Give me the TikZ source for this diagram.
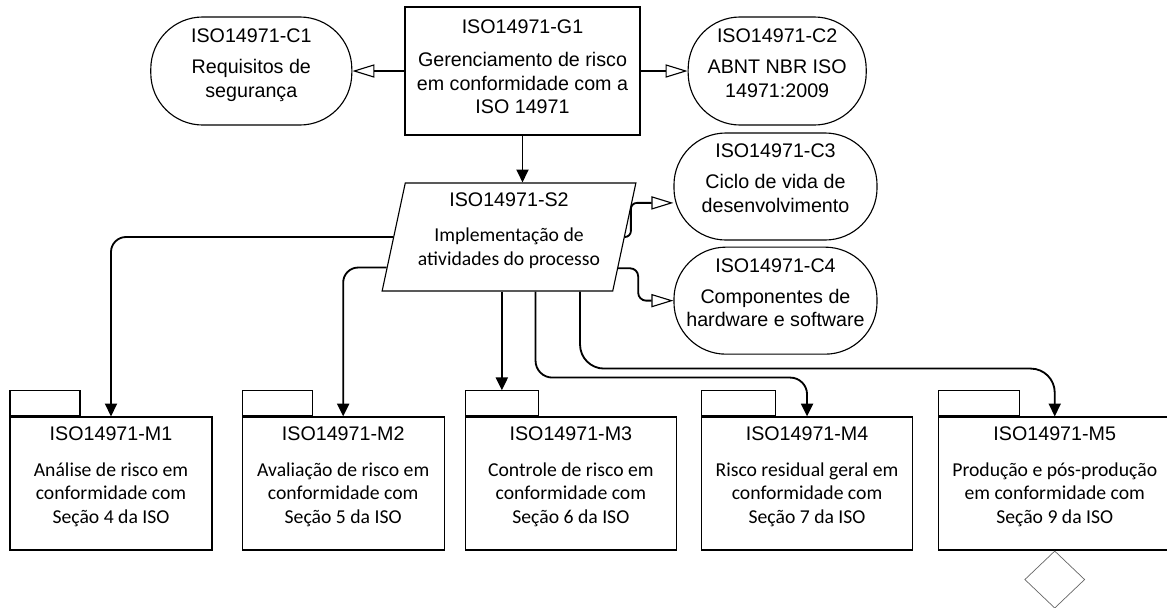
\documentclass[tikz,border=0pt]{standalone}
\usepackage{fontspec}
\setmainfont{Liberation Sans}
\newfontfamily\calfont{Carlito}
\usetikzlibrary{positioning,arrows.meta,shapes.geometric,calc}

\begin{document}
\begin{tikzpicture}[x=0.025cm,y=-0.025cm,
  every node/.style={font=\fontsize{14}{17}\selectfont,align=center},
  cbox/.style={draw,line width=0.8pt,rounded corners=1.3cm,minimum height=2.7cm,inner sep=0pt,text depth=0.4cm},
  gbox/.style={draw,line width=0.8pt,minimum width=5.875cm,minimum height=3.2cm,inner sep=2pt,text depth=0.2cm},
  sbox/.style={draw,line width=0.8pt,trapezium,trapezium left angle=77.5,trapezium right angle=102.5,trapezium stretches=true,minimum width=6.35cm,minimum height=2.7cm,inner sep=2pt,font=\calfont\fontsize{14}{17}\selectfont,text depth=0.4cm},
  mbox/.style={draw,line width=0.8pt,minimum height=3.325cm,font=\calfont\fontsize{14}{17}\selectfont,text depth=0.4cm},
  tabbox/.style={draw,line width=0.8pt,minimum height=0.625cm,inner sep=0pt},
  dia/.style={draw=black!60,line width=0.5pt,diamond,minimum width=1.5cm,minimum height=1.43cm,inner sep=0pt},
  conn/.style={line width=1.3pt,-{Triangle[length=0.32cm,width=0.3cm]}},
  opn/.style={line width=1.3pt,-{Triangle[open,line width=0.8pt,length=0.55cm,width=0.33cm]}}]
\useasboundingbox (0,0) rectangle (1167,607);
% top row
\node[gbox] (g1) at (522.5,71) {ISO14971-G1\\[6pt]Gerenciamento de risco\\em conformidade com a\\ISO 14971};
\node[cbox,minimum width=5.025cm,left=1.3cm of g1] (c1) {ISO14971-C1\\[5pt]Requisitos de\\segurança};
\node[cbox,minimum width=4.45cm,right=1.175cm of g1] (c2) {ISO14971-C2\\[5pt]ABNT NBR ISO\\14971:2009};
% middle
\node[sbox] (s2) at (509,237) {{\rmfamily ISO14971-S2}\\[8pt]Implementação de\\atividades do processo};
\node[cbox,minimum width=5.075cm,minimum height=2.675cm] (c3) at (775.5,186.5) {ISO14971-C3\\[5pt]Ciclo de vida de\\desenvolvimento};
\node[cbox,minimum width=5.075cm,minimum height=2.675cm,below=0.15cm of c3] (c4) {ISO14971-C4\\[5pt]Componentes de\\hardware e software};
% packages
\node[mbox,minimum width=5.05cm] (m1) at (111,483.5) {{\rmfamily ISO14971-M1}\\[8pt]Análise de risco em\\conformidade com\\Seção 4 da ISO};
\node[mbox,minimum width=5.05cm,right=0.725cm of m1] (m2) {{\rmfamily ISO14971-M2}\\[8pt]Avaliação de risco em\\conformidade com\\Seção 5 da ISO};
\node[mbox,minimum width=5.275cm,right=0.5cm of m2] (m3) {{\rmfamily ISO14971-M3}\\[8pt]Controle de risco em\\conformidade com\\Seção 6 da ISO};
\node[mbox,minimum width=5.275cm,right=0.6cm of m3] (m4) {{\rmfamily ISO14971-M4}\\[8pt]Risco residual geral em\\conformidade com\\Seção 7 da ISO};
\node[mbox,minimum width=5.8cm,right=0.625cm of m4] (m5) {{\rmfamily ISO14971-M5}\\[8pt]Produção e pós-produção\\em conformidade com\\Seção 9 da ISO};
\node[tabbox,minimum width=1.75cm,anchor=south west] (t1) at (m1.north west) {};
\node[tabbox,minimum width=1.75cm,anchor=south west] (t2) at (m2.north west) {};
\node[tabbox,minimum width=1.825cm,anchor=south west] (t3) at (m3.north west) {};
\node[tabbox,minimum width=1.85cm,anchor=south west] (t4) at (m4.north west) {};
\node[tabbox,minimum width=2.025cm,anchor=south west] (t5) at (m5.north west) {};
\node[dia,below=0pt of m5] (d5) {};
% connectors
\draw[opn] (g1) -- (c1);
\draw[opn] (g1) -- (c2);
\draw[conn] (g1.south) -- (g1.south |- s2.north);
\draw[opn,rounded corners=0.15cm] (s2.east) -- ++(6,0) |- ([yshift=-0.41cm]c3.west);
\draw[opn,rounded corners=0.2cm] (s2.344) -- ++(20,0) |- (c4.west);
\draw[conn,rounded corners=0.375cm] (s2.west) -| (m1.north);
\draw[conn,rounded corners=0.375cm] (s2.194) -| (m2.north);
\draw[conn] (s2.south -| t3.north) -- (t3.north);
\draw[conn,rounded corners=0.42cm] ($(s2.bottom left corner)!0.665!(s2.bottom right corner)$) -- ++(0,86) -| (m4.north);
\draw[conn,rounded corners=0.6cm] ($(s2.bottom left corner)!0.857!(s2.bottom right corner)$) -- ++(0,77) -| (m5.north);
\end{tikzpicture}
\end{document}
